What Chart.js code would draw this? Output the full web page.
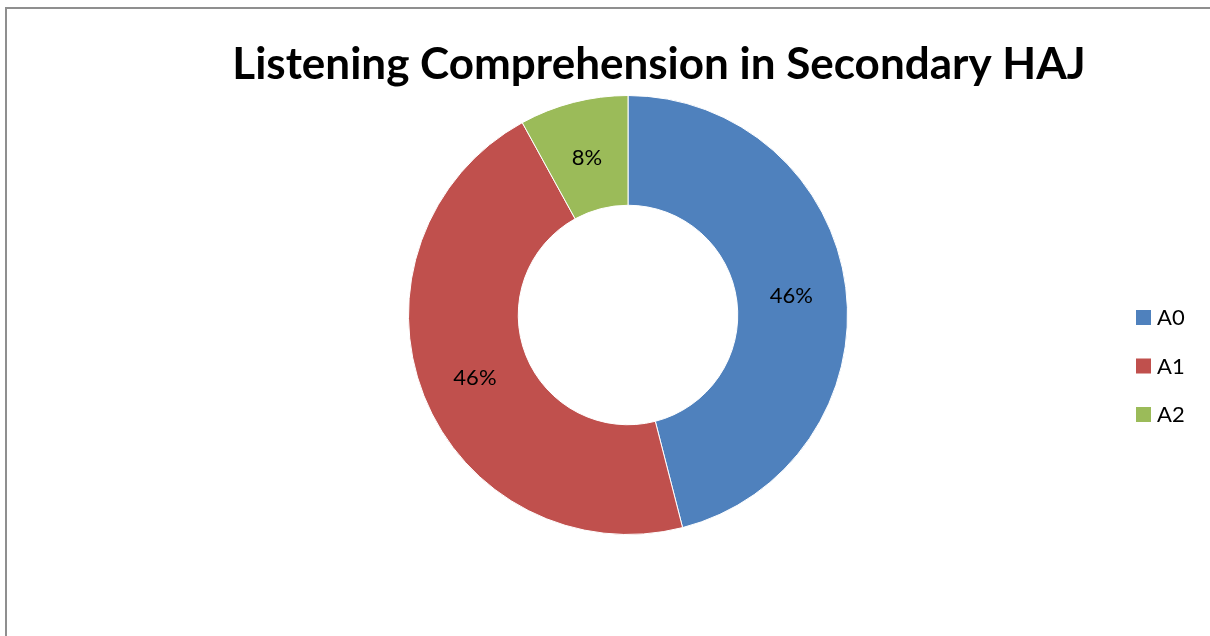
<!DOCTYPE html>
<html lang="en">
<head>
    <meta charset="UTF-8">
    <title>Listening Comprehension in Secondary HAJ</title>
    <script src="https://cdn.jsdelivr.net/npm/chart.js"></script>
    <style>
        html, body {
            margin: 0;
            padding: 0;
            background: #ffffff;
            overflow: hidden;
        }
        .frame {
            position: absolute;
            left: 5px;
            top: 7px;
            width: 1220px;
            height: 650px;
            border-left: 2px solid #8f8f8f;
            border-top: 2px solid #8f8f8f;
        }
        #chartBox {
            position: absolute;
            left: 0;
            top: 0;
            width: 1210px;
            height: 636px;
        }
    </style>
</head>
<body>
    <div class="frame"></div>
    <div id="chartBox"><canvas id="myChart"></canvas></div>

    <script>
        // Data
        const categories = ['A0', 'A1', 'A2'];
        const values = [46, 46, 8];
        const colors = ['#4F81BD', '#C0504D', '#9BBB59'];
        const chartTitle = 'Listening Comprehension in Secondary HAJ';

        const FONT = 'Lato, "Open Sans", sans-serif';

        // Title, legend and % labels drawn on top of the doughnut
        const decorPlugin = {
            id: 'decor',
            afterDraw(chart) {
                const ctx = chart.ctx;
                ctx.save();

                // title
                ctx.fillStyle = '#000';
                ctx.font = 'bold 44px ' + FONT;
                ctx.textAlign = 'center';
                ctx.textBaseline = 'alphabetic';
                ctx.fillText(chartTitle, 659, 79);

                // percent labels in the middle of each ring slice
                const meta = chart.getDatasetMeta(0);
                const total = values.reduce((a, b) => a + b, 0);
                ctx.font = '22px ' + FONT;
                ctx.textBaseline = 'middle';
                meta.data.forEach((arc, i) => {
                    const p = arc.tooltipPosition();
                    const pct = Math.round(values[i] / total * 100) + '%';
                    ctx.fillText(pct, p.x, p.y + 2);
                });

                // legend
                ctx.textAlign = 'left';
                categories.forEach((c, i) => {
                    const y = 317 + i * 48.5;
                    ctx.fillStyle = colors[i];
                    ctx.fillRect(1136, y - 7, 15, 15);
                    ctx.fillStyle = '#000';
                    ctx.fillText(c, 1157, y + 1);
                });

                ctx.restore();
            }
        };

        const ctx = document.getElementById('myChart').getContext('2d');
        const chart = new Chart(ctx, {
            type: 'doughnut',
            data: {
                labels: categories,
                datasets: [{
                    data: values,
                    backgroundColor: colors,
                    borderColor: '#ffffff',
                    borderWidth: 1
                }]
            },
            options: {
                responsive: true,
                maintainAspectRatio: false,
                animation: false,
                cutout: '50%',
                layout: {
                    padding: { left: 408, right: 362, top: 95, bottom: 101 }
                },
                plugins: {
                    legend: { display: false },
                    title: { display: false },
                    tooltip: { enabled: false }
                }
            },
            plugins: [decorPlugin]
        });
    </script>
</body>
</html>
